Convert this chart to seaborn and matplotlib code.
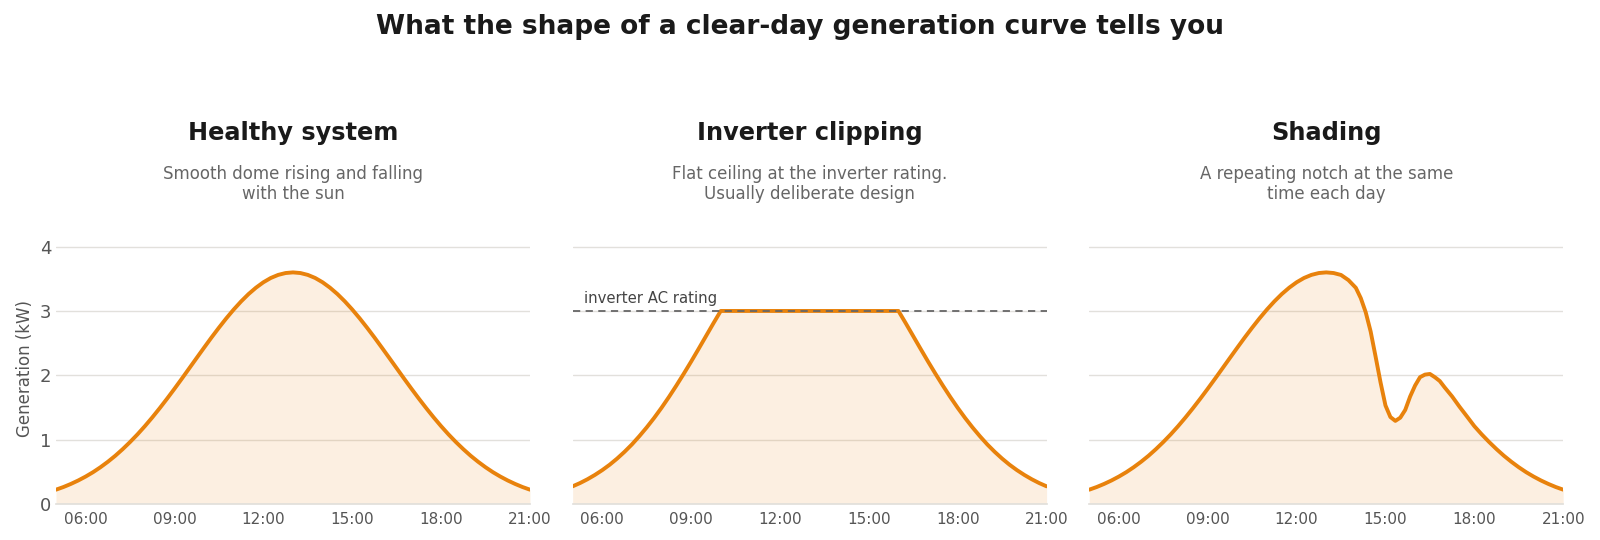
import numpy as np
import matplotlib.pyplot as plt
import seaborn as sns

# time of day in hours, 15 minute steps from 05:00 to 21:00
hours = np.arange(5.0, 21.01, 0.25)
# the shading day is sampled every 10 minutes around the notch
shading_hours = np.concatenate([np.arange(5.0, 14.0, 0.25),
                                np.arange(840, 1020, 10) / 60,
                                np.arange(17.0, 21.01, 0.25)])

healthy = [0.220, 0.261, 0.309, 0.363, 0.424, 0.492, 0.569, 0.654, 0.747, 0.850, 0.961,
           1.080, 1.208, 1.344, 1.487, 1.636, 1.790, 1.948, 2.109, 2.270, 2.430, 2.588,
           2.740, 2.886, 3.023, 3.149, 3.263, 3.362, 3.446, 3.513, 3.561, 3.590, 3.600,
           3.590, 3.561, 3.513, 3.446, 3.362, 3.263, 3.149, 3.023, 2.886, 2.740, 2.588,
           2.430, 2.270, 2.109, 1.948, 1.790, 1.636, 1.487, 1.344, 1.208, 1.080, 0.961,
           0.850, 0.747, 0.654, 0.569, 0.492, 0.424, 0.363, 0.309, 0.261, 0.220]

clipping = [0.272, 0.323, 0.382, 0.449, 0.524, 0.608, 0.703, 0.808, 0.923, 1.051, 1.188,
            1.335, 1.493, 1.661, 1.838, 2.022, 2.212, 2.408, 2.607, 2.806, 3.000,
            3.000, 3.000, 3.000, 3.000, 3.000, 3.000, 3.000, 3.000, 3.000, 3.000, 3.000,
            3.000, 3.000, 3.000, 3.000, 3.000, 3.000, 3.000, 3.000, 3.000, 3.000, 3.000,
            3.000, 3.000,
            2.806, 2.607, 2.408, 2.212, 2.022, 1.838, 1.661, 1.493, 1.335, 1.188, 1.051,
            0.923, 0.808, 0.703, 0.608, 0.524, 0.449, 0.382, 0.323, 0.272]

shading = [0.220, 0.261, 0.309, 0.363, 0.424, 0.492, 0.569, 0.654, 0.747, 0.850, 0.961,
           1.080, 1.208, 1.344, 1.487, 1.636, 1.790, 1.948, 2.109, 2.270, 2.430, 2.588,
           2.740, 2.886, 3.023, 3.149, 3.263, 3.362, 3.446, 3.513, 3.561, 3.590, 3.600,
           3.590, 3.560, 3.480,
           3.36, 3.20, 2.98, 2.68, 2.29, 1.89, 1.53, 1.35, 1.29, 1.34, 1.46, 1.67,
           1.84, 1.97, 2.01, 2.02, 1.97, 1.91,
           1.81, 1.67, 1.51, 1.36, 1.208, 1.080, 0.961, 0.850, 0.747, 0.654, 0.569,
           0.492, 0.424, 0.363, 0.309, 0.261, 0.220]

titles = ["Healthy system", "Inverter clipping", "Shading"]
subtitles = ["Smooth dome rising and falling\nwith the sun",
             "Flat ceiling at the inverter rating.\nUsually deliberate design",
             "A repeating notch at the same\ntime each day"]
inverter_rating = 3.0
tick_hours = [6, 9, 12, 15, 18, 21]
tick_labels = ["06:00", "09:00", "12:00", "15:00", "18:00", "21:00"]

orange = "#e8820c"

sns.set_theme(style="whitegrid")
plt.rcParams['font.family'] = ['DejaVu Sans']

fig, axes = plt.subplots(1, 3, figsize=(16, 5.4), dpi=100, sharey=True)
fig.subplots_adjust(left=0.035, right=0.977, bottom=0.067, top=0.567, wspace=0.09)

panels = [(hours, healthy), (hours, clipping), (shading_hours, shading)]
for ax, (x, values), title, sub in zip(axes, panels, titles, subtitles):
    ax.fill_between(x, values, 0, color=orange, alpha=0.12, linewidth=0)
    sns.lineplot(x=x, y=values, ax=ax, color=orange, linewidth=2.8)
    ax.set_xlim(5, 21)
    ax.set_ylim(0, 4.2)
    ax.set_yticks([0, 1, 2, 3, 4])
    ax.set_xticks(tick_hours)
    ax.set_xticklabels(tick_labels)
    ax.grid(axis="x", visible=False)
    ax.grid(axis="y", color="#e2e0dc", linewidth=1)
    for s in ["top", "right", "left"]:
        ax.spines[s].set_visible(False)
    ax.spines["bottom"].set_color("#e2e0dc")
    ax.tick_params(axis="x", labelsize=11, colors="#555555", length=0, pad=6)
    ax.tick_params(axis="y", labelsize=13, colors="#555555", length=0)
    ax.set_xlabel("")
    ax.text(0.5, 1.375, title, transform=ax.transAxes, ha="center", va="center",
            fontsize=17.3, fontweight="bold", color="#1a1a1a")
    ax.text(0.5, 1.185, sub, transform=ax.transAxes, ha="center", va="center",
            fontsize=12, color="#666666", linespacing=1.1)

axes[0].set_ylabel("Generation (kW)", fontsize=12, color="#555555")

axes[1].axhline(inverter_rating, color="#666666", linestyle="--", linewidth=1.3, dashes=(4, 3))
axes[1].text(5.4, inverter_rating + 0.08, "inverter AC rating", fontsize=10.7,
             color="#444444", va="bottom")

fig.suptitle("What the shape of a clear-day generation curve tells you",
             fontsize=19, fontweight="bold", color="#1a1a1a", y=0.974)

plt.savefig("out.png", dpi=100)
